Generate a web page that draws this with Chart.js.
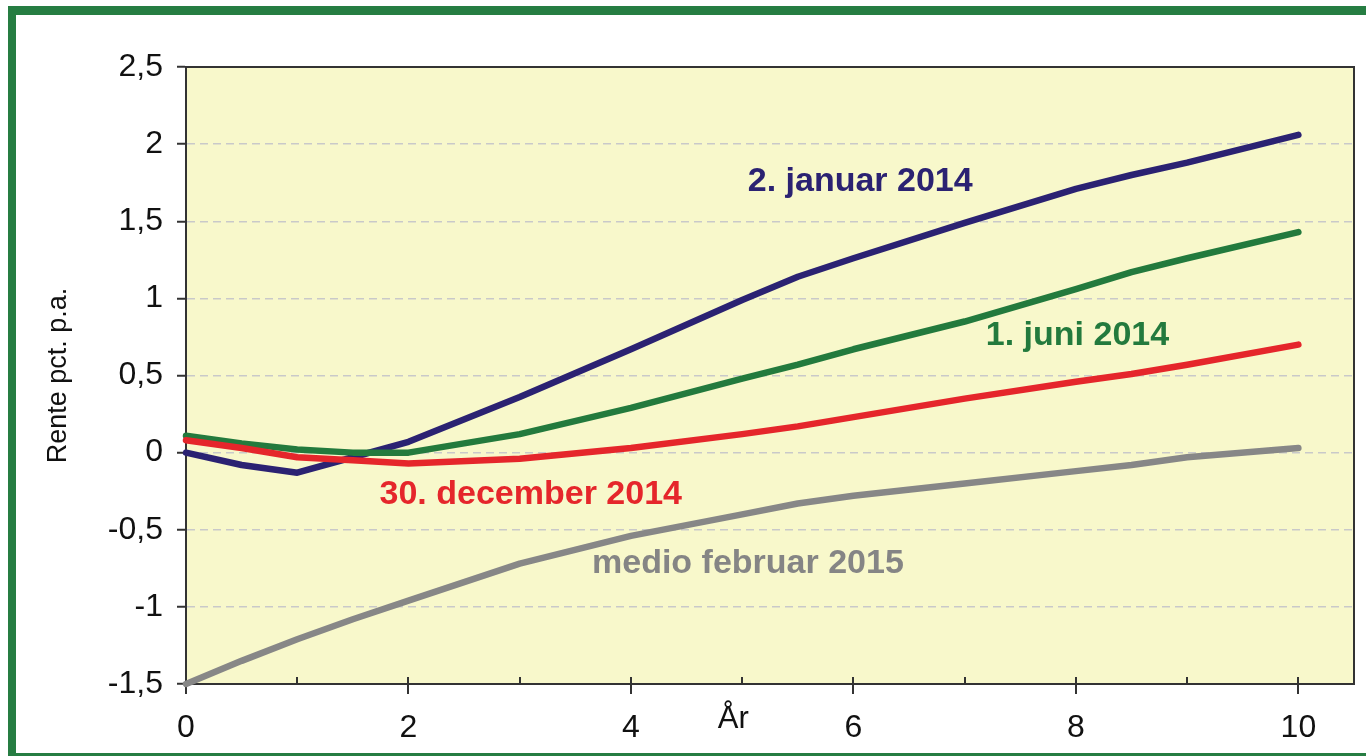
<!DOCTYPE html>
<html>
<head>
<meta charset="utf-8">
<script src="https://cdn.jsdelivr.net/npm/chart.js@4"></script>
<style>
  html, body { margin: 0; padding: 0; background: #fff; overflow: hidden; }
  #frame {
    position: absolute; left: 8px; top: 6px; width: 1400px; height: 738px;
    border: 9px solid #267d42; border-left-width: 8px;
  }
  #wrap { position: absolute; left: 0; top: 0; width: 1366px; height: 756px; }
</style>
</head>
<body>
<div id="frame"></div>
<div id="wrap"><canvas id="chart"></canvas></div>
<script>
// years to maturity (x) and rates in pct. p.a.
const years = [0, 0.5, 1, 1.5, 2, 3, 4, 5, 5.5, 6, 7, 8, 8.5, 9, 10];
const jan2014 = [0.00, -0.08, -0.13, -0.03, 0.07, 0.36, 0.67, 0.99, 1.14, 1.26, 1.49, 1.71, 1.80, 1.88, 2.06];
const jun2014 = [0.11, 0.06, 0.02, 0.00, 0.00, 0.12, 0.29, 0.48, 0.57, 0.67, 0.85, 1.06, 1.17, 1.26, 1.43];
const dec2014 = [0.08, 0.03, -0.03, -0.05, -0.07, -0.04, 0.03, 0.12, 0.17, 0.23, 0.35, 0.46, 0.51, 0.57, 0.70];
const feb2015 = [-1.50, -1.35, -1.21, -1.08, -0.96, -0.72, -0.54, -0.40, -0.33, -0.28, -0.20, -0.12, -0.08, -0.03, 0.03];

const xTicks = [0, 1, 2, 3, 4, 5, 6, 7, 8, 9, 10];
const xLabelled = [0, 2, 4, 6, 8, 10];

// series labels placed in data coordinates
const notes = [
  { text: "2. januar 2014",     x: 5.05, y: 1.76,  color: "#2b2272" },
  { text: "1. juni 2014",       x: 7.19, y: 0.76,  color: "#237a3d" },
  { text: "30. december 2014",  x: 1.74, y: -0.27, color: "#e5262b" },
  { text: "medio februar 2015", x: 3.65, y: -0.72, color: "#858585" },
];

const FONT = "'Liberation Sans', Arial, sans-serif";

function series(values, color) {
  return {
    data: years.map((x, i) => ({ x, y: values[i] })),
    borderColor: color,
    borderWidth: 6.5,
    pointRadius: 0,
    tension: 0,
    borderCapStyle: "round",
    borderJoinStyle: "round",
    clip: false,
  };
}

const plotDecor = {
  id: "plotDecor",
  beforeDraw(chart) {
    const { ctx, chartArea: a } = chart;
    ctx.save();
    ctx.fillStyle = "#f8f8cb";
    ctx.fillRect(a.left, a.top, a.right - a.left, a.bottom - a.top);
    ctx.restore();
  },
  beforeDatasetsDraw(chart) {
    const { ctx, chartArea: a } = chart;
    const xs = chart.scales.x;
    ctx.save();
    ctx.strokeStyle = "#333";
    ctx.lineWidth = 2;
    ctx.beginPath();
    ctx.moveTo(a.left, a.top); ctx.lineTo(a.right, a.top); ctx.lineTo(a.right, a.bottom);
    ctx.stroke();
    // x ticks: short inner ticks every year, crossing ticks at labelled years
    ctx.beginPath();
    xTicks.forEach(v => {
      const px = Math.round(xs.getPixelForValue(v));
      const long = xLabelled.includes(v);
      ctx.moveTo(px, a.bottom - 7);
      ctx.lineTo(px, long ? a.bottom + 10 : a.bottom);
    });
    ctx.stroke();
    ctx.restore();
  },
  afterDraw(chart) {
    const { ctx } = chart;
    const xs = chart.scales.x, ys = chart.scales.y;
    ctx.save();
    ctx.textAlign = "left";
    ctx.textBaseline = "middle";
    ctx.font = "bold 34px " + FONT;
    notes.forEach(n => {
      ctx.fillStyle = n.color;
      ctx.fillText(n.text, xs.getPixelForValue(n.x), ys.getPixelForValue(n.y));
    });
    // axis title "År" sits between the 4 and 6 labels
    ctx.font = "31px " + FONT;
    ctx.fillStyle = "#111";
    ctx.textAlign = "center";
    ctx.fillText("År", xs.getPixelForValue(4.92), 719);
    ctx.restore();
  },
};

new Chart(document.getElementById("chart"), {
  type: "line",
  data: {
    datasets: [
      series(feb2015, "#878787"),
      series(dec2014, "#e5262b"),
      series(jun2014, "#237a3d"),
      series(jan2014, "#2b2272"),
    ],
  },
  options: {
    responsive: true,
    maintainAspectRatio: false,
    animation: false,
    layout: { padding: { top: 67, right: 12, bottom: 0, left: 0 } },
    plugins: { legend: { display: false }, tooltip: { enabled: false } },
    scales: {
      x: {
        type: "linear",
        min: 0,
        max: 10.5,
        afterBuildTicks: (s) => { s.ticks = xTicks.map(v => ({ value: v })); },
        afterFit: (s) => { s.height = 72; },
        grid: { display: true, drawOnChartArea: false, drawTicks: false },
        border: { display: true, color: "#333", width: 2 },
        ticks: {
          autoSkip: false,
          maxRotation: 0,
          padding: 25,
          color: "#111",
          font: { family: FONT, size: 32 },
          callback: (v) => (xLabelled.includes(v) ? String(v) : ""),
        },
      },
      y: {
        min: -1.5,
        max: 2.5,
        afterFit: (s) => { s.width = 186; },
        ticks: {
          stepSize: 0.5,
          padding: 14,
          color: "#111",
          font: { family: FONT, size: 32 },
          callback: (v) => String(Math.round(v * 10) / 10).replace(".", ","),
        },
        grid: {
          color: (c) => (c.tick && (c.tick.value === 2.5 || c.tick.value === -1.5) ? "rgba(0,0,0,0)" : "#c9c9c9"),
          lineWidth: 1.5,
          tickLength: 9,
          tickColor: "#333",
          tickWidth: 2,
          tickBorderDash: [],
        },
        border: { display: true, color: "#333", width: 2, dash: [8, 5] },
        title: {
          display: true,
          text: "Rente pct. p.a.",
          color: "#111",
          font: { family: FONT, size: 27 },
          padding: { top: 42, bottom: 0 },
        },
      },
    },
  },
  plugins: [plotDecor],
});
</script>
</body>
</html>
